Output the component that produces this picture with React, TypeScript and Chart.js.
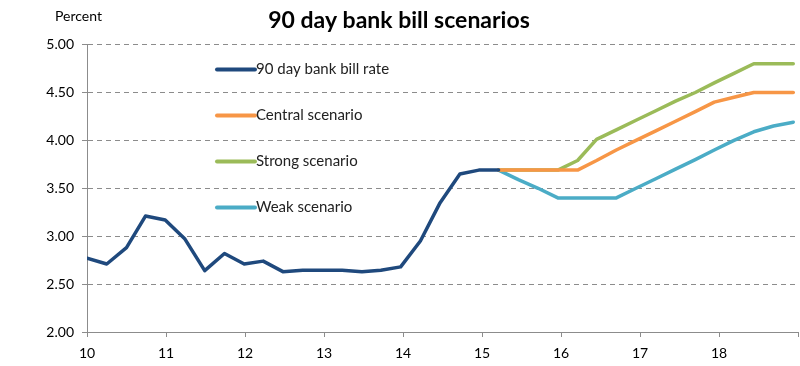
import React, { useEffect, useRef } from "react";
import { Chart, registerables } from "chart.js";

Chart.register(...registerables);

const dates = [
  10.0, 10.25, 10.5, 10.74, 10.99, 11.24, 11.49, 11.74, 11.99, 12.23,
  12.48, 12.73, 12.98, 13.23, 13.48, 13.72, 13.97, 14.22, 14.47, 14.72,
  14.96, 15.21, 15.46, 15.71, 15.96, 16.21, 16.45, 16.7, 16.95, 17.2,
  17.45, 17.7, 17.94, 18.19, 18.44, 18.69, 18.94,
];

const bankBill = [
  2.77, 2.71, 2.88, 3.21, 3.17, 2.97, 2.64, 2.82, 2.71, 2.74,
  2.63, 2.645, 2.645, 2.645, 2.63, 2.645, 2.68, 2.95, 3.35, 3.65,
  3.69, 3.69, null, null, null, null, null, null, null, null,
  null, null, null, null, null, null, null,
];

const central = [
  null, null, null, null, null, null, null, null, null, null,
  null, null, null, null, null, null, null, null, null, null,
  null, 3.69, 3.69, 3.69, 3.69, 3.69, 3.79, 3.9, 4.0, 4.1,
  4.2, 4.3, 4.4, 4.45, 4.5, 4.5, 4.5,
];

const strong = [
  null, null, null, null, null, null, null, null, null, null,
  null, null, null, null, null, null, null, null, null, null,
  null, 3.69, 3.69, 3.69, 3.69, 3.79, 4.01, 4.11, 4.21, 4.31,
  4.41, 4.5, 4.6, 4.7, 4.8, 4.8, 4.8,
];

const weak = [
  null, null, null, null, null, null, null, null, null, null,
  null, null, null, null, null, null, null, null, null, null,
  null, 3.69, 3.59, 3.5, 3.4, 3.4, 3.4, 3.4, 3.5, 3.6,
  3.7, 3.8, 3.9, 4.0, 4.09, 4.15, 4.19,
];

const seriesLabels = [
  "90 day bank bill rate",
  "Central scenario",
  "Strong scenario",
  "Weak scenario",
];
const seriesColors = ["#1F497D", "#F79646", "#9BBB59", "#4BACC6"];
const xTickYears = [10, 11, 12, 13, 14, 15, 16, 17, 18];
const yTicks = [2.0, 2.5, 3.0, 3.5, 4.0, 4.5, 5.0];

const FONT = "Lato, 'Open Sans', sans-serif";

const toPoints = (vals: (number | null)[]) =>
  dates.map((x, i) => ({ x, y: vals[i] }));

const extrasPlugin = {
  id: "extras",
  afterDatasetsDraw(chart: any) {
    const { ctx, chartArea } = chart;
    ctx.save();
    // "Percent" unit label
    ctx.font = `14px ${FONT}`;
    ctx.fillStyle = "#000";
    ctx.textAlign = "left";
    ctx.textBaseline = "middle";
    ctx.fillText("Percent", chartArea.left - 32, 16);
    // Legend inside the plot
    chart.data.datasets.forEach((ds: any, i: number) => {
      const y = chartArea.top + 25 + i * 46;
      const x0 = chartArea.left + 130;
      const x1 = chartArea.left + 168;
      ctx.strokeStyle = ds.borderColor;
      ctx.lineWidth = 4;
      ctx.lineCap = "round";
      ctx.beginPath();
      ctx.moveTo(x0, y);
      ctx.lineTo(x1, y);
      ctx.stroke();
      ctx.font = `15px ${FONT}`;
      ctx.fillStyle = "#222";
      ctx.textAlign = "left";
      ctx.textBaseline = "middle";
      ctx.fillText(ds.label, x1 + 1, y);
    });
    ctx.restore();
  },
};

export default function App() {
  const canvasRef = useRef<HTMLCanvasElement | null>(null);

  useEffect(() => {
    if (!canvasRef.current) return;
    const allSeries = [bankBill, central, strong, weak];
    const chart = new Chart(canvasRef.current, {
      type: "line",
      data: {
        datasets: allSeries.map((vals, i) => ({
          label: seriesLabels[i],
          data: toPoints(vals),
          borderColor: seriesColors[i],
          backgroundColor: seriesColors[i],
          borderWidth: 3.5,
          pointRadius: 0,
          tension: 0,
          borderJoinStyle: "round",
          borderCapStyle: "round",
          spanGaps: false,
        })),
      },
      options: {
        animation: false,
        responsive: true,
        maintainAspectRatio: false,
        layout: { padding: { left: 0, right: 2, top: 0, bottom: 0 } },
        plugins: {
          legend: { display: false },
          tooltip: { enabled: false },
          title: {
            display: true,
            text: "90 day bank bill scenarios",
            color: "#000",
            font: { family: FONT, size: 23, weight: "bold" },
            padding: { top: 7, bottom: 10 },
          },
        },
        scales: {
          x: {
            type: "linear",
            min: 10,
            max: 19,
            afterBuildTicks: (scale: any) => {
              scale.ticks = [...xTickYears, 19].map((v) => ({ value: v }));
            },
            afterFit: (scale: any) => {
              scale.height = 34;
              scale.paddingLeft = 0;
              scale.paddingRight = 0;
            },
            ticks: {
              autoSkip: false,
              maxRotation: 0,
              color: "#000",
              font: { family: FONT, size: 14 },
              padding: 8,
              callback: (v: any) =>
                xTickYears.includes(Number(v)) ? String(v) : "",
            },
            grid: {
              drawOnChartArea: false,
              drawTicks: true,
              tickLength: 5,
              color: "#8c8c8c",
            },
            border: { display: true, color: "#8c8c8c", width: 1 },
          },
          y: {
            min: 2,
            max: 5,
            afterBuildTicks: (scale: any) => {
              scale.ticks = yTicks.map((v) => ({ value: v }));
            },
            afterFit: (scale: any) => {
              scale.width = 87;
            },
            ticks: {
              color: "#000",
              font: { family: FONT, size: 14 },
              padding: 8,
              callback: (v: any) => Number(v).toFixed(2),
            },
            grid: {
              drawOnChartArea: true,
              drawTicks: true,
              tickLength: 5,
              color: "#8c8c8c",
              tickColor: "#8c8c8c",
            },
            border: { display: true, color: "#8c8c8c", width: 1, dash: [5, 4] },
          },
        },
      },
      plugins: [extrasPlugin],
    } as any);
    return () => chart.destroy();
  }, []);

  return (
    <div
      style={{
        position: "fixed",
        left: 0,
        top: 0,
        width: 800,
        height: 366,
        background: "#fff",
      }}
    >
      <canvas ref={canvasRef} />
    </div>
  );
}
